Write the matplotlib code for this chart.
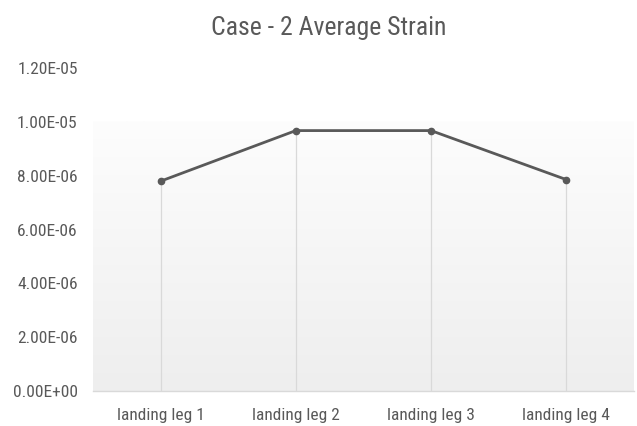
import numpy as np
import matplotlib.pyplot as plt
from matplotlib.colors import LinearSegmentedColormap

# Average strain per landing leg, case 2
legs = ['landing leg 1', 'landing leg 2', 'landing leg 3', 'landing leg 4']
avg_strain = [7.80e-06, 9.68e-06, 9.68e-06, 7.86e-06]
y_ticks = [0.0, 2e-06, 4e-06, 6e-06, 8e-06, 1e-05, 1.2e-05]

plt.rcParams['font.family'] = ['Roboto Condensed', 'Liberation Sans Narrow',
                               'Liberation Sans', 'DejaVu Sans']
text_col = '#595959'

fig = plt.figure(figsize=(6.37, 4.26), dpi=100)
ax = fig.add_axes([0.146, 0.082, 0.849, 0.758])

x = np.arange(len(legs))

# soft vertical gradient behind the series
grad = np.linspace(0, 1, 256).reshape(-1, 1)
bg = LinearSegmentedColormap.from_list('bg', ['#eeeeee', '#fdfdfd'])
ax.imshow(grad, extent=(-0.5, len(legs) - 0.5, 0, 1e-05), origin='lower',
          aspect='auto', cmap=bg, zorder=0)

# drop lines from each point to the category axis
ax.vlines(x, 0, avg_strain, color='#d9d9d9', linewidth=0.9, zorder=1)
ax.plot(x, avg_strain, color=text_col, linewidth=2.0, marker='o',
        markersize=4.5, zorder=3)

ax.set_xlim(-0.5, len(legs) - 0.5)
ax.set_ylim(0, 1.2e-05)
ax.set_xticks(x)
ax.set_xticklabels(legs)
ax.set_yticks(y_ticks)
ax.set_yticklabels([f'{v:.2E}' for v in y_ticks])
ax.tick_params(axis='both', length=0, labelcolor=text_col)
ax.tick_params(axis='x', pad=12, labelsize=12.5)
ax.tick_params(axis='y', pad=11, labelsize=12.5)

for side in ['top', 'right', 'left']:
    ax.spines[side].set_visible(False)
ax.spines['bottom'].set_color('#d9d9d9')
ax.spines['bottom'].set_linewidth(1.0)
ax.set_facecolor('white')

fig.text(0.516, 0.935, 'Case - 2 Average Strain', ha='center', va='center',
         fontsize=18.5, color=text_col)

fig.savefig('out.png', dpi=100)
